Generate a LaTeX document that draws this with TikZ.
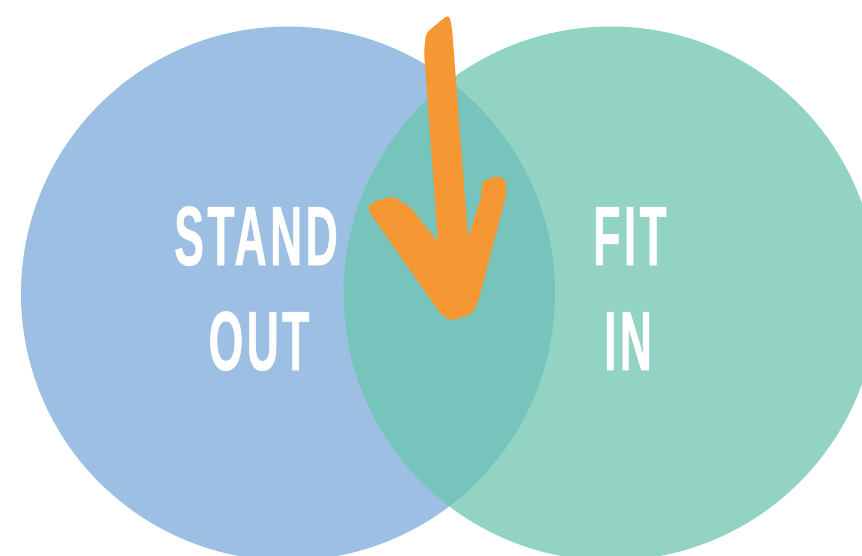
\documentclass[tikz,border=0pt]{standalone}
\usepackage{fontspec}
\newfontfamily\condfont{Liberation Sans}[FakeStretch=0.53,FakeBold=0.6,LetterSpace=4]
\definecolor{leftblue}{HTML}{9DBFE3}
\definecolor{rightgreen}{HTML}{93D3C4}
\definecolor{overlap}{HTML}{77C4BC}
\definecolor{arroworange}{HTML}{F59733}
\begin{document}
\begin{tikzpicture}[x=1pt,y=-1pt,
  lbl/.style={text=white,anchor=base,inner sep=0pt,font=\condfont\bfseries\fontsize{84}{84}\selectfont}]
\useasboundingbox (0,0) rectangle (862,555);
\begin{scope}
\clip (0,0) rectangle (862,555);
\fill[leftblue] (288,293.5) circle[radius=267];
\fill[rightgreen] (610.6,293.5) circle[radius=267];
\begin{scope}
\clip (288,293.5) circle[radius=267];
\fill[overlap] (610.6,293.5) circle[radius=267];
\end{scope}
\end{scope}
\node[lbl] (stand) at (256,265) {STAND};
\node[lbl] (out) at (259,370) {OUT};
\node[lbl] (fit) at (630,265) {FIT};
\node[lbl] (in) at (628,370) {IN};
\fill[arroworange, rounded corners=5pt]
  (449,14) -- (426,33) -- (424,52) -- (438,242) -- (410,207) -- (393,196) -- (370,203) -- (368,210)
  -- (440,313) -- (450,321) -- (472,314) -- (478,302) -- (507,192) -- (505,178) -- (494,176)
  -- (481,183) -- (482,195) -- (468,238) -- (452,28) -- cycle;
\end{tikzpicture}
\end{document}
